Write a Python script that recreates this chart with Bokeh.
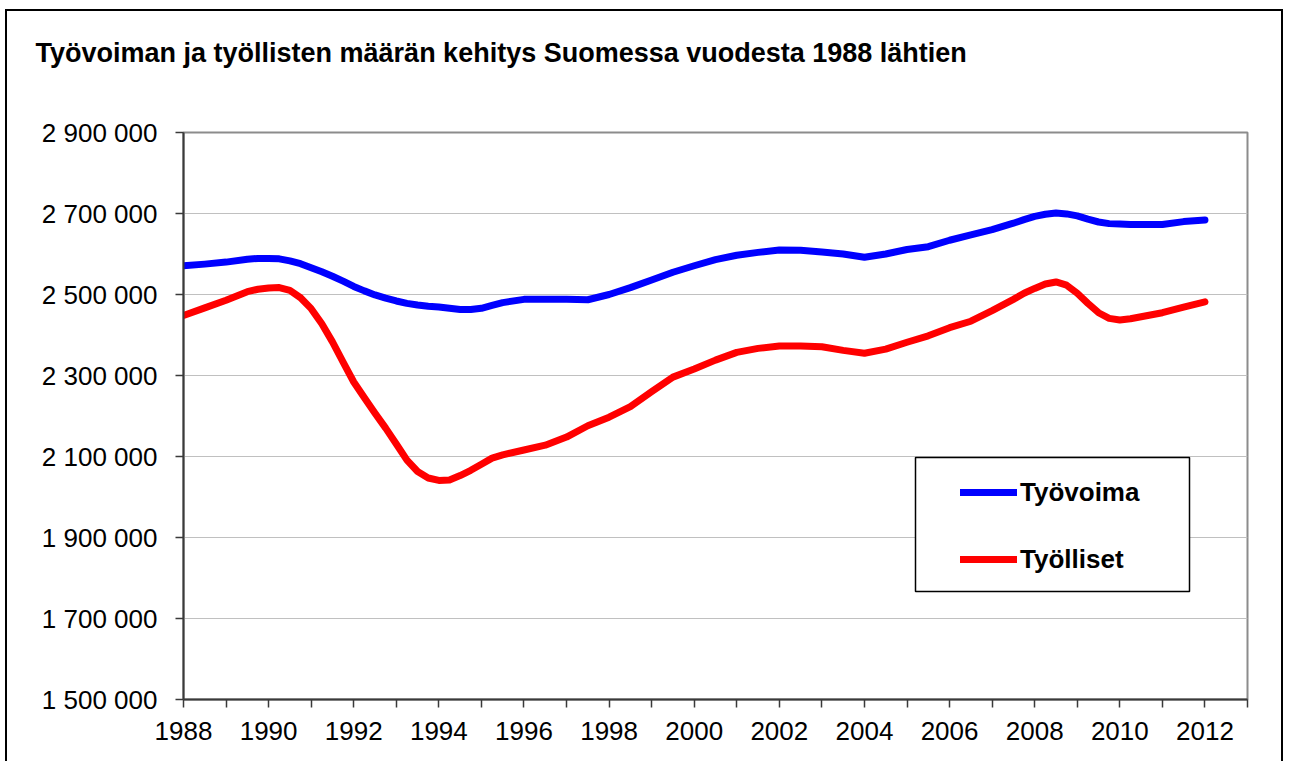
from bokeh.plotting import figure
from bokeh.models import (Range1d, FixedTicker, Legend, LegendItem, BoxAnnotation, Title)
from bokeh.embed import file_html
from bokeh.resources import INLINE

# ---------------- data ----------------
TITLE = "Työvoiman ja työllisten määrän kehitys Suomessa vuodesta 1988 lähtien"
SERIES_NAMES = ["Työvoima", "Työlliset"]

YEARS = [1988.0, 1988.5, 1989.0, 1989.5, 1989.75, 1990.0, 1990.25, 1990.5,
         1990.75, 1991.0, 1991.25, 1991.5, 1991.75, 1992.0, 1992.25, 1992.5,
         1992.75, 1993.0, 1993.25, 1993.5, 1993.75, 1994.0, 1994.25, 1994.5,
         1994.75, 1995.0, 1995.25, 1995.5, 1996.0, 1996.5, 1997.0, 1997.5,
         1998.0, 1998.5, 1999.0, 1999.5, 2000.0, 2000.5, 2001.0, 2001.5,
         2002.0, 2002.5, 2003.0, 2003.5, 2004.0, 2004.5, 2005.0, 2005.5,
         2006.0, 2006.5, 2007.0, 2007.5, 2007.75, 2008.0, 2008.25, 2008.5,
         2008.75, 2009.0, 2009.25, 2009.5, 2009.75, 2010.0, 2010.25, 2010.5,
         2011.0, 2011.5, 2012.0]

TYOVOIMA = [2571000, 2575000, 2580000, 2587000, 2589000, 2589000, 2588000, 2583000,
            2576000, 2566000, 2556000, 2545000, 2533000, 2520000, 2509000, 2499000,
            2491000, 2484000, 2478000, 2474000, 2471000, 2469000, 2466000, 2463000,
            2463000, 2466000, 2473000, 2480000, 2488000, 2488000, 2488000, 2487000,
            2500000, 2517000, 2536000, 2555000, 2571000, 2586000, 2597000, 2604000,
            2610000, 2609000, 2605000, 2600000, 2592000, 2600000, 2611000, 2618000,
            2634000, 2647000, 2660000, 2676000, 2685000, 2693000, 2698000, 2701000,
            2699000, 2694000, 2686000, 2679000, 2675000, 2674000, 2673000, 2673000,
            2673000, 2680000, 2684000]

TYOLLISET = [2448000, 2467000, 2486000, 2507000, 2513000, 2516000, 2517000, 2510000,
             2492000, 2465000, 2428000, 2383000, 2333000, 2284000, 2245000, 2207000,
             2170000, 2131000, 2091000, 2063000, 2047000, 2041000, 2042000, 2053000,
             2066000, 2081000, 2096000, 2104000, 2116000, 2128000, 2148000, 2176000,
             2197000, 2223000, 2260000, 2296000, 2316000, 2338000, 2357000, 2367000,
             2373000, 2373000, 2371000, 2362000, 2355000, 2365000, 2382000, 2398000,
             2418000, 2434000, 2460000, 2488000, 2503000, 2515000, 2526000, 2531000,
             2523000, 2503000, 2478000, 2455000, 2441000, 2437000, 2440000, 2445000,
             2455000, 2469000, 2482000]

Y_TICKS = [1500000, 1700000, 1900000, 2100000, 2300000, 2500000, 2700000, 2900000]
Y_TICK_LABELS = ["1 500 000", "1 700 000", "1 900 000", "2 100 000",
                 "2 300 000", "2 500 000", "2 700 000", "2 900 000"]
X_LABEL_TICKS = [1988, 1990, 1992, 1994, 1996, 1998, 2000, 2002, 2004, 2006,
                 2008, 2010, 2012]
X_MINOR_TICKS = [1989, 1991, 1993, 1995, 1997, 1999, 2001, 2003, 2005, 2007,
                 2009, 2011, 2013]

# ---------------- layout ----------------
X0, X1 = 1988, 2013
Y0, Y1 = 1500000, 2900000
MARGIN_L, MARGIN_T, BORDER = 5, 9, 2
ORIGIN_X, ORIGIN_Y = MARGIN_L + BORDER, MARGIN_T + BORDER   # canvas origin on page
FRAME_L, FRAME_T, FRAME_R, FRAME_B = 183, 132, 1247, 699
TITLE_LEFT, TITLE_BOTTOM = 35, 67
W, H = 1278, 752
FONT = "Liberation Sans"


def px_x(px):
    return X0 + (px - FRAME_L) / (FRAME_R - FRAME_L) * (X1 - X0)


def px_y(py):
    return Y0 + (FRAME_B - py) / (FRAME_B - FRAME_T) * (Y1 - Y0)


p = figure(width=W, height=H, output_backend="svg", toolbar_location=None,
           title=None,
           x_range=Range1d(X0, X1), y_range=Range1d(Y0, Y1),
           min_border_left=FRAME_L - ORIGIN_X,
           min_border_top=FRAME_T - ORIGIN_Y,
           min_border_right=ORIGIN_X + W - FRAME_R,
           min_border_bottom=ORIGIN_Y + H - FRAME_B)
p.styles = {"border-top": f"{BORDER}px solid black",
            "border-left": f"{BORDER}px solid black",
            "border-right": f"{BORDER}px solid black",
            "margin-left": f"{MARGIN_L}px", "margin-top": f"{MARGIN_T}px"}

p.outline_line_color = "#8c8c8c"
p.outline_line_width = 2
p.background_fill_color = "white"
p.border_fill_color = "white"

# title: an empty spacer panel next to the frame, then the title itself
spacer = Title(text=" ", text_font_size="1px", standoff=FRAME_T - TITLE_BOTTOM - 3)
p.add_layout(spacer, "above")
title = Title(text=TITLE, align="left", offset=TITLE_LEFT - FRAME_L, standoff=0,
              text_font=FONT, text_font_size="27px", text_font_style="bold",
              text_color="black")
p.add_layout(title, "above")

# axes
axis_col = "#3a3a3a"
p.yaxis.ticker = FixedTicker(ticks=Y_TICKS)
p.yaxis.major_label_overrides = {t: l for t, l in zip(Y_TICKS, Y_TICK_LABELS)}
p.yaxis.axis_line_color = axis_col
p.yaxis.axis_line_width = 2
p.yaxis.major_tick_line_color = axis_col
p.yaxis.major_tick_line_width = 1.5
p.yaxis.major_tick_out = 8
p.yaxis.major_tick_in = 0
p.yaxis.minor_tick_line_color = None
p.yaxis.major_label_standoff = 18
p.yaxis.major_label_text_font = FONT
p.yaxis.major_label_text_font_size = "26px"
p.yaxis.major_label_text_color = "black"

p.xaxis.ticker = FixedTicker(ticks=X_LABEL_TICKS, minor_ticks=X_MINOR_TICKS)
p.xaxis.axis_line_color = axis_col
p.xaxis.axis_line_width = 2
p.xaxis.major_tick_line_color = axis_col
p.xaxis.major_tick_line_width = 1.5
p.xaxis.major_tick_out = 8
p.xaxis.major_tick_in = 0
p.xaxis.minor_tick_line_color = axis_col
p.xaxis.minor_tick_line_width = 1.5
p.xaxis.minor_tick_out = 8
p.xaxis.minor_tick_in = 0
p.xaxis.major_label_standoff = 14
p.xaxis.major_label_text_font = FONT
p.xaxis.major_label_text_font_size = "26px"
p.xaxis.major_label_text_color = "black"

p.xgrid.grid_line_color = None
p.ygrid.ticker = FixedTicker(ticks=Y_TICKS)
p.ygrid.grid_line_color = "#c0c0c0"
p.ygrid.grid_line_width = 1

# lines
r1 = p.line(YEARS, TYOVOIMA, line_color="#0000ff", line_width=7,
            line_cap="round", line_join="round")
r2 = p.line(YEARS, TYOLLISET, line_color="#ff0000", line_width=7,
            line_cap="round", line_join="round")

# legend box
box = BoxAnnotation(left=px_x(915), right=px_x(1189), top=px_y(457), bottom=px_y(591),
                    fill_color="white", fill_alpha=1.0,
                    line_color="black", line_alpha=1.0, line_width=1.5)
p.add_layout(box)

legend = Legend(items=[LegendItem(label=SERIES_NAMES[0], renderers=[r1]),
                       LegendItem(label=SERIES_NAMES[1], renderers=[r2])],
                location=(960 - FRAME_L, FRAME_B - 575),
                padding=0, margin=0, spacing=35,
                glyph_width=57, glyph_height=32, label_height=32,
                label_standoff=3,
                label_text_font=FONT, label_text_font_size="26px",
                label_text_font_style="bold", label_text_color="black",
                border_line_color=None, background_fill_alpha=0.0)
p.add_layout(legend)

open("out.html", "w").write(file_html(p, INLINE))
